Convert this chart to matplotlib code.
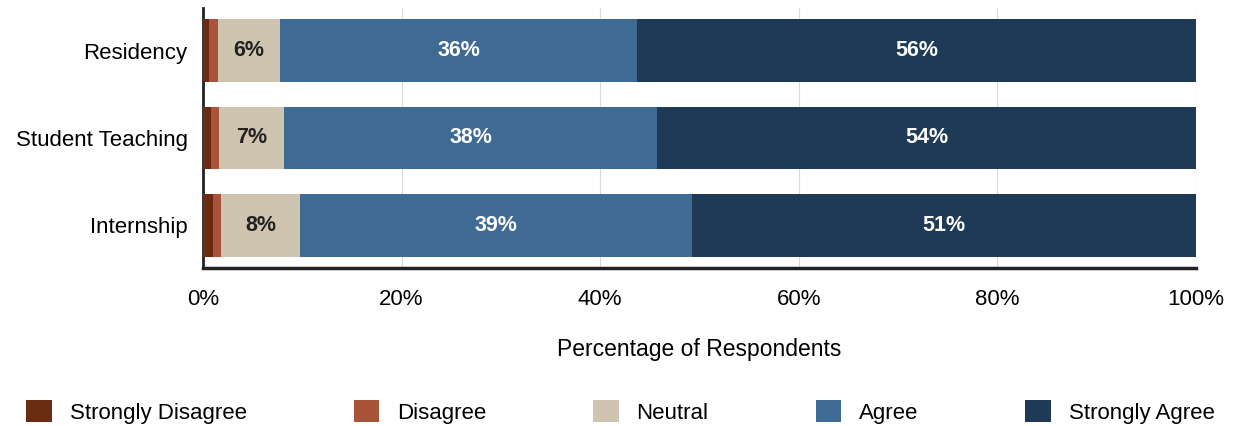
import matplotlib.pyplot as plt
from matplotlib.patches import Patch

# Data (percent of respondents)
programs = ["Residency", "Student Teaching", "Internship"]
categories = ["Strongly Disagree", "Disagree", "Neutral", "Agree", "Strongly Agree"]
strongly_disagree = [0.6, 0.8, 1.0]
disagree = [0.9, 0.8, 0.8]
neutral = [6.3, 6.6, 8.0]
agree = [35.9, 37.5, 39.4]
strongly_agree = [56.3, 54.3, 50.8]
x_ticks = [0, 20, 40, 60, 80, 100]

colors = ["#6b2a12", "#a9543a", "#cfc4b0", "#3f6a93", "#1f3a57"]
label_colors = [None, None, "#222222", "white", "white"]
series = [strongly_disagree, disagree, neutral, agree, strongly_agree]

plt.rcParams['font.family'] = ['Liberation Sans', 'DejaVu Sans']

fig = plt.figure(figsize=(12.37, 4.26), dpi=100)
ax = fig.add_axes([203 / 1237, 1 - 268 / 426, (1196 - 203) / 1237, 260 / 426])

ypos = list(range(len(programs)))
left = [0.0] * len(programs)
for vals, col, lcol in zip(series, colors, label_colors):
    ax.barh(ypos, vals, left=left, height=0.72, color=col, zorder=3)
    for i, v in enumerate(vals):
        if v >= 5:
            ax.text(left[i] + v / 2, ypos[i], f"{round(v)}%", ha='center', va='center',
                    color=lcol, fontsize=15.5, fontweight='bold', zorder=4)
    left = [l + v for l, v in zip(left, vals)]

ax.set_xlim(0, 100)
ax.set_ylim(2.49, -0.49)
ax.set_yticks(ypos)
ax.set_yticklabels(programs, fontsize=16)
ax.set_xticks(x_ticks)
ax.set_xticklabels([f"{t}%" for t in x_ticks], fontsize=16)
ax.tick_params(axis='y', length=0, pad=11)
ax.tick_params(axis='x', length=0, pad=15)
ax.grid(axis='x', color='#d9d9d9', linewidth=0.8, zorder=0)
for s in ['top', 'right']:
    ax.spines[s].set_visible(False)
ax.spines['left'].set_color('#222222')
ax.spines['left'].set_linewidth(2)
ax.spines['bottom'].set_color('#222222')
ax.spines['bottom'].set_linewidth(2.5)
ax.set_xlabel("Percentage of Respondents", fontsize=16.5, labelpad=20)

handles = [Patch(facecolor=c) for c in colors]
fig.legend(handles, categories, loc='center left', ncol=5, mode='expand',
           bbox_to_anchor=(0.014, 0.0, 0.975, 0.066), frameon=False, fontsize=16,
           handlelength=1.15, handleheight=1.15, handletextpad=0.8, borderaxespad=0.0)

fig.savefig("out.png", dpi=100)
